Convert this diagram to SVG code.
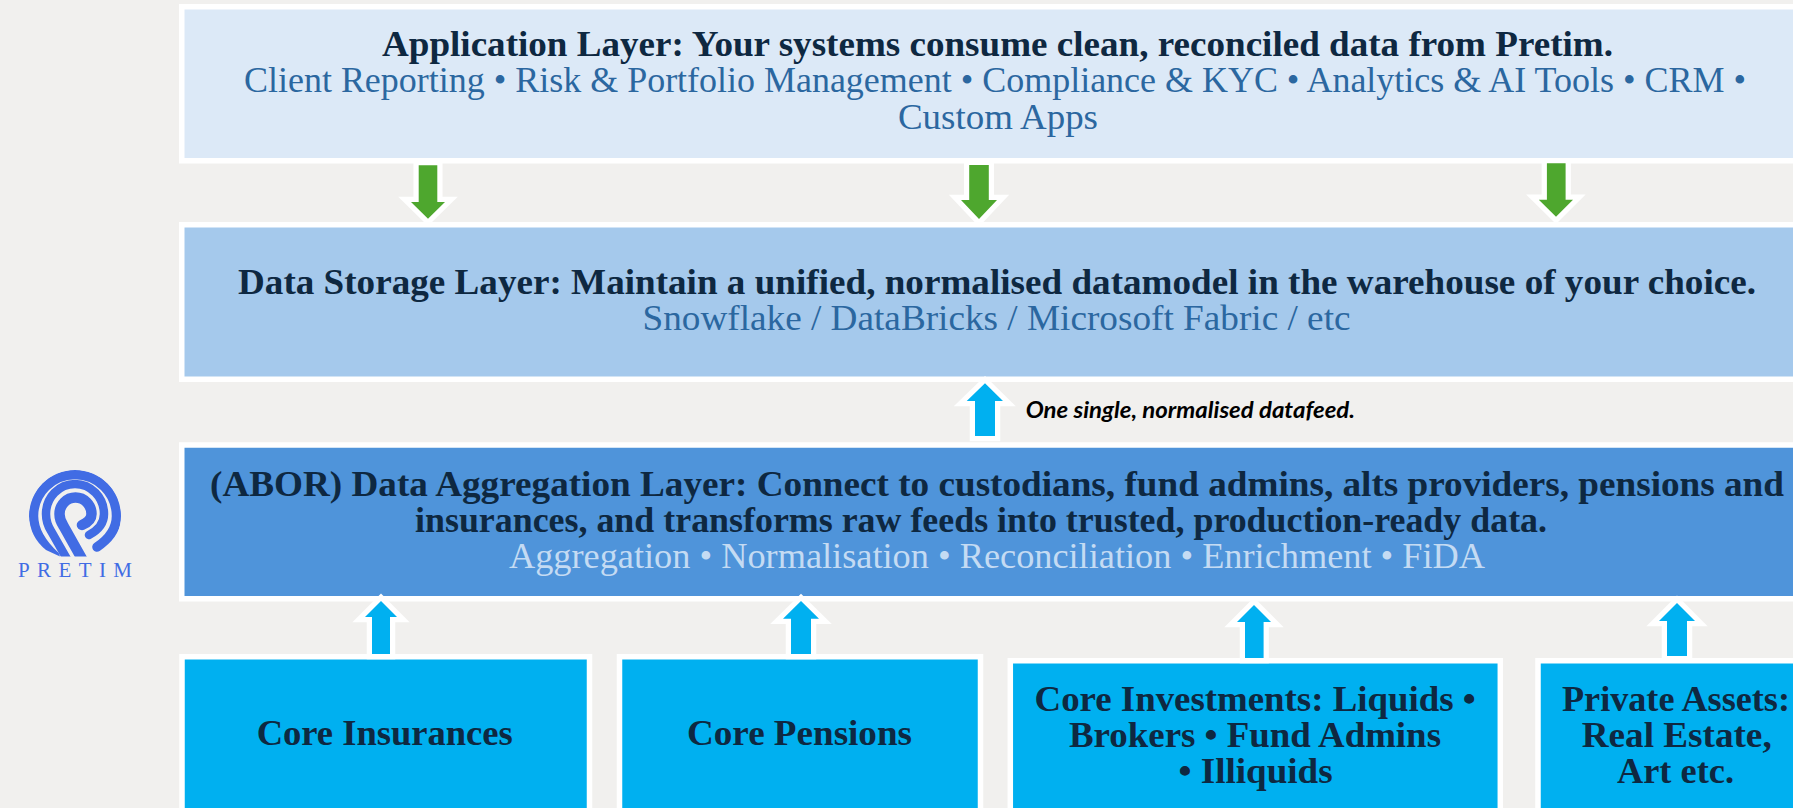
<svg xmlns="http://www.w3.org/2000/svg" width="1793" height="808" viewBox="0 0 1793 808">
<style>
.box{stroke:#fff;stroke-width:5.5}
.t{font-family:"Liberation Serif",serif;font-size:35px;text-anchor:start}
.b{font-weight:700;fill:#0e2841}
.r{font-weight:400;fill:#2b67a0}
.l{font-weight:400;fill:#c4dbf3}
.g{fill:#4ea72e}
.u{fill:#00b0f0}
.a{stroke:#fff;stroke-width:10.5;stroke-linejoin:miter;stroke-miterlimit:10;paint-order:stroke}
.lg{fill:none;stroke:#416ce4;stroke-linecap:round}
</style>
<defs><clipPath id="lc"><path d="M29 516a46 46 0 1 1 92 0a46 46 0 0 1-19 37L88 556.500H60L46 550a46 46 0 0 1-17-34z"/></clipPath></defs>
<rect width="1793" height="808" fill="#f1f0ee"/>
<g id="logo">
<g clip-path="url(#lc)">
<path class="lg" stroke-width="9.500" d="M97 547Q116.500 534 116.500 516A41.500 41.500 0 0 0 33.500 516Q33.500 536 55 556"/>
<path class="lg" stroke-width="8.500" d="M89 535Q104 527 104 514A29 30 0 0 0 46 514Q46 523 51 531L71 566"/>
<path class="lg" stroke-width="10.500" d="M82 525Q91.500 521 91.500 514A16 16.500 0 0 0 59.500 514Q59.500 520 63.500 526L86 566"/>
</g>
<text x="18" y="577" font-family="'Liberation Serif',serif" font-size="21" fill="#416ce4" textLength="114" lengthAdjust="spacing">PRETIM</text>
</g>
<g id="application-layer">
<rect class="box" x="181.750" y="6.750" width="1640" height="154" fill="#dce9f7"/>
<text class="t b" x="382" y="56" textLength="1231" lengthAdjust="spacingAndGlyphs">Application Layer: Your systems consume clean, reconciled data from Pretim.</text>
<text class="t r" x="244" y="92" textLength="1502" lengthAdjust="spacingAndGlyphs">Client Reporting • Risk &amp; Portfolio Management • Compliance &amp; KYC • Analytics &amp; AI Tools • CRM •</text>
<text class="t r" x="898" y="128.500" textLength="200" lengthAdjust="spacingAndGlyphs">Custom Apps</text>
</g>
<g id="data-storage-layer">
<rect class="box" x="181.750" y="224.750" width="1640" height="154.500" fill="#a5c9ec"/>
<text class="t b" x="238" y="294" textLength="1518" lengthAdjust="spacingAndGlyphs">Data Storage Layer: Maintain a unified, normalised datamodel in the warehouse of your choice.</text>
<text class="t r" x="642.500" y="330" textLength="708" lengthAdjust="spacingAndGlyphs">Snowflake / DataBricks / Microsoft Fabric / etc</text>
</g>
<g id="aggregation-layer">
<rect class="box" x="181.750" y="445" width="1640" height="153.750" fill="#4f94da"/>
<text class="t b" x="210" y="496" textLength="1574" lengthAdjust="spacingAndGlyphs">(ABOR) Data Aggregation Layer: Connect to custodians, fund admins, alts providers, pensions and</text>
<text class="t b" x="415" y="532" textLength="1132" lengthAdjust="spacingAndGlyphs">insurances, and transforms raw feeds into trusted, production-ready data.</text>
<text class="t l" x="509" y="568" textLength="976" lengthAdjust="spacingAndGlyphs">Aggregation • Normalisation • Reconciliation • Enrichment • FiDA</text>
</g>
<g id="core-insurances">
<rect class="box" x="182" y="656.750" width="407.500" height="170" fill="#00b0f0"/>
<text class="t b" x="256.700" y="745" textLength="256" lengthAdjust="spacingAndGlyphs">Core Insurances</text>
</g>
<g id="core-pensions">
<rect class="box" x="619.500" y="656.750" width="361" height="170" fill="#00b0f0"/>
<text class="t b" x="687" y="745" textLength="225" lengthAdjust="spacingAndGlyphs">Core Pensions</text>
</g>
<g id="core-investments">
<rect class="box" x="1010.300" y="660.750" width="490" height="170" fill="#00b0f0"/>
<text class="t b" x="1034.600" y="710.700" textLength="441" lengthAdjust="spacingAndGlyphs">Core Investments: Liquids •</text>
<text class="t b" x="1069" y="746.700" textLength="372" lengthAdjust="spacingAndGlyphs">Brokers • Fund Admins</text>
<text class="t b" x="1178.600" y="782.700" textLength="154" lengthAdjust="spacingAndGlyphs">• Illiquids</text>
</g>
<g id="private-assets">
<rect class="box" x="1538" y="660.750" width="300" height="170" fill="#00b0f0"/>
<text class="t b" x="1562" y="710.700" textLength="228" lengthAdjust="spacingAndGlyphs">Private Assets:</text>
<text class="t b" x="1581.700" y="746.700" textLength="190" lengthAdjust="spacingAndGlyphs">Real Estate,</text>
<text class="t b" x="1617" y="782.700" textLength="117" lengthAdjust="spacingAndGlyphs">Art etc.</text>
</g>
<g id="connectors">
<polygon class="a g" points="418.700,165.300 437.300,165.300 437.300,202 445,202 428,218.700 411,202 418.700,202"/>
<polygon class="a g" points="969.200,165 988.800,165 988.800,200 997,200 979,219 961,200 969.200,200"/>
<polygon class="a g" points="1546.900,163.300 1565.600,163.300 1565.600,199.700 1573,199.700 1556,216.700 1538.800,199.700 1546.900,199.700"/>
<polygon class="a u" points="975,436 995,436 995,401 1003,401 985,383.300 966.700,401 975,401"/>
<polygon class="a u" points="372,654 390,654 390,617 397,617 381,601 365,617 372,617"/>
<polygon class="a u" points="791,654 811,654 811,618.700 819,618.700 801,601 783,618.700 791,618.700"/>
<polygon class="a u" points="1245,658 1263.600,658 1263.600,622 1271,622 1254,605 1237,622 1245,622"/>
<polygon class="a u" points="1667,656 1687,656 1687,621 1695,621 1677,603 1659,621 1667,621"/>
<text x="1025.700" y="418" font-family="Lato,sans-serif" font-size="22" font-weight="700" font-style="italic" fill="#000" textLength="329.300" lengthAdjust="spacingAndGlyphs">One single, normalised datafeed.</text>
</g>
</svg>
